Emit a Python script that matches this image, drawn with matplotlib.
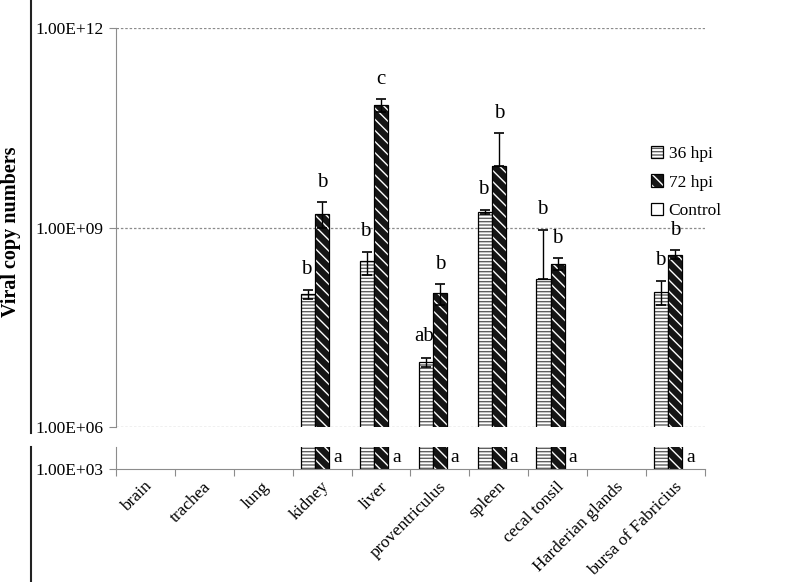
import matplotlib
matplotlib.use('Agg')
import matplotlib.pyplot as plt
import matplotlib.transforms as mtransforms
import numpy as np
from matplotlib.patches import Patch
from matplotlib.lines import Line2D
from matplotlib.legend_handler import HandlerTuple

nan = np.nan

tissues = ['brain', 'trachea', 'lung', 'kidney', 'liver', 'proventriculus',
           'spleen', 'cecal tonsil', 'Harderian glands', 'bursa of Fabricius']

# viral copy numbers
hpi36 = [nan, nan, nan, 1.0e8, 3.1e8, 9.5e6, 1.7e9, 1.7e8, nan, 1.07e8]
hpi36_lo = [0, 0, 0, 0.15e8, 1.15e8, 1.4e6, 0.1e9, 0, 0, 0.39e8]
hpi36_hi = [0, 0, 0, 0.15e8, 1.2e8, 1.5e6, 0.12e9, 7.4e8, 0, 0.5e8]

hpi72 = [nan, nan, nan, 1.6e9, 6.9e10, 1.05e8, 8.3e9, 2.8e8, nan, 3.9e8]
hpi72_lo = [0, 0, 0, 0.6e9, 1.5e10, 0.37e8, 0, 0.5e8, 0, 0.5e8]
hpi72_hi = [0, 0, 0, 0.85e9, 1.8e10, 0.36e8, 1.8e10, 0.67e8, 0, 0.67e8]

control = [nan] * 10

let36 = ['', '', '', 'b', 'b', 'ab', 'b', 'b', '', 'b']
let72 = ['', '', '', 'b', 'c', 'b', 'b', 'b', '', 'b']
let_ctrl = ['', '', '', 'a', 'a', 'a', 'a', 'a', '', 'a']

plt.rcParams['font.family'] = ['Liberation Serif', 'DejaVu Serif']
plt.rcParams['hatch.linewidth'] = 1.0

fig = plt.figure(figsize=(8, 5.82), dpi=100)
ax_top = fig.add_axes([0.145, 0.2663, 0.736, 0.6856])
ax_bot = fig.add_axes([0.145, 0.1942, 0.736, 0.0378])

x = np.arange(len(tissues)) + 0.5
w = 0.24
grey = '#8c8c8c'
hatch36 = '-----'
hatch72 = '\\\\\\'


def draw_bars(ax):
    # 36 hpi: grey horizontal lines on white, black outline
    ax.bar(x - w, hpi36, w, bottom=1e2, color='white', edgecolor='#606060',
           hatch=hatch36, linewidth=0)
    ax.bar(x - w, hpi36, w, bottom=1e2, color='none', edgecolor='black',
           linewidth=0.9)
    # 72 hpi: white diagonal lines on black, black outline
    ax.bar(x, hpi72, w, bottom=1e2, color='#151515', edgecolor='white',
           hatch=hatch72, linewidth=0)
    ax.bar(x, hpi72, w, bottom=1e2, color='none', edgecolor='black',
           linewidth=0.9)
    ax.bar(x + w, control, w, bottom=1e2, color='white', edgecolor='black',
           linewidth=0.9)


for ax in (ax_top, ax_bot):
    ax.set_yscale('log')
    ax.set_xlim(0, len(tissues))
    draw_bars(ax)
    for s in ('top', 'right'):
        ax.spines[s].set_visible(False)
    ax.spines['left'].set_color(grey)
    ax.spines['bottom'].set_color(grey)
    ax.tick_params(axis='y', colors=grey, labelcolor='black', labelsize=12.5,
                   length=5, pad=4)
    ax.yaxis.set_minor_locator(matplotlib.ticker.NullLocator())

# upper panel
ax_top.set_ylim(1e6, 1e12)
ax_top.set_yticks([1e6, 1e9, 1e12])
ax_top.set_yticklabels(['1.00E+06', '1.00E+09', '1.00E+12'])
ax_top.spines['bottom'].set_visible(False)
ax_top.set_xticks([])
for v in (1e6, 1e9, 1e12):
    ax_top.axhline(v, color=grey, lw=0.9, ls=(0, (2, 1.5)), zorder=0)

m = ~np.isnan(np.array(hpi36))
ax_top.errorbar(x[m] - w, np.array(hpi36)[m],
                yerr=[np.array(hpi36_lo)[m], np.array(hpi36_hi)[m]],
                fmt='none', ecolor='black', elinewidth=1, capsize=3.5, capthick=1.2)
m = ~np.isnan(np.array(hpi72))
ax_top.errorbar(x[m], np.array(hpi72)[m],
                yerr=[np.array(hpi72_lo)[m], np.array(hpi72_hi)[m]],
                fmt='none', ecolor='black', elinewidth=1, capsize=3.5, capthick=1.2)

for i in range(len(tissues)):
    if let36[i]:
        ax_top.annotate(let36[i], (x[i] - w, hpi36[i] + hpi36_hi[i]),
                        xytext=(-1, 15), textcoords='offset points',
                        ha='center', va='center', fontsize=15)
    if let72[i]:
        ax_top.annotate(let72[i], (x[i], hpi72[i] + hpi72_hi[i]),
                        xytext=(0, 14), textcoords='offset points',
                        ha='center', va='center', fontsize=15)

ax_top.text(-0.178, 0.49, 'Viral copy numbers', transform=ax_top.transAxes,
            rotation=90, ha='center', va='center', fontsize=14.5, fontweight='bold')

# lower panel
ax_bot.set_ylim(1e3, 2.14e3)
ax_bot.set_yticks([1e3])
ax_bot.set_yticklabels(['1.00E+03'])
ax_bot.set_xticks(np.arange(len(tissues) + 1))
ax_bot.set_xticklabels([])
ax_bot.set_xticks(x, minor=True)
ax_bot.set_xticklabels(tissues, minor=True, rotation=45, ha='right',
                       va='center', rotation_mode='anchor', fontsize=12.5)
ax_bot.tick_params(axis='x', which='major', colors=grey, length=5)
ax_bot.tick_params(axis='x', which='minor', length=0, pad=11)
shift = mtransforms.ScaledTranslation(3 / 72, 0, fig.dpi_scale_trans)
for lab in ax_bot.get_xticklabels(minor=True):
    lab.set_transform(lab.get_transform() + shift)
for i in range(len(tissues)):
    if let_ctrl[i]:
        ax_bot.text(x[i] + w + 0.02, 0.5, let_ctrl[i],
                    transform=ax_bot.get_xaxis_transform(),
                    ha='center', va='center', fontsize=14)

# legend
outline = Patch(facecolor='none', edgecolor='black', lw=0.9)
handles = [
    (Patch(facecolor='white', edgecolor='#606060', hatch=hatch36, lw=0), outline),
    (Patch(facecolor='#151515', edgecolor='white', hatch=hatch72, lw=0), outline),
    Patch(facecolor='white', edgecolor='black', lw=0.9),
]
fig.legend(handles, ['36 hpi', '72 hpi', 'Control'], loc='upper left',
           bbox_to_anchor=(0.814, 0.749), frameon=False, fontsize=12.5,
           handlelength=0.7, handleheight=0.7, handletextpad=0.3,
           labelspacing=0.7, borderpad=0, borderaxespad=0,
           handler_map={tuple: HandlerTuple(ndivide=1)})

# frame lines on the left of the figure
fig.add_artist(Line2D([0.0385, 0.0385], [1.0, 0.256], color='#222', lw=1.5))
fig.add_artist(Line2D([0.0385, 0.0385], [0.232, 0.0], color='#222', lw=1.5))

fig.savefig('out.png', dpi=100)
